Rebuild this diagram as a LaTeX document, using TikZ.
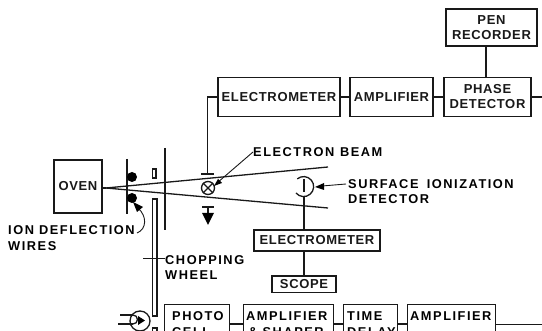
\documentclass[tikz,border=0pt]{standalone}
\usepackage{fontspec}
\setmainfont{Liberation Sans}[LetterSpace=5]
\newfontfamily\widefont{Liberation Sans}[LetterSpace=12]
\tikzset{
  ink/.style={line width=1.3pt,black!90},
  thinink/.style={line width=.9pt,black!90},
  blockbox/.style={ink,draw,rectangle,minimum width=#1,inner sep=0pt,align=center},
  lbl/.style={inner sep=0pt,anchor=west,align=left,font=\widefont\fontsize{12.8}{15.5}\selectfont\bfseries},
  boxtxt/.style={inner sep=0pt,align=left,anchor=north west,font=\widefont\fontsize{12.8}{16}\selectfont\bfseries},
  wire/.style={ink,draw},
}
\begin{document}
\begin{tikzpicture}[x=1pt,y=-1pt,font=\fontsize{13}{15}\selectfont\bfseries]
\useasboundingbox (0,0) rectangle (542,331);
\clip (0,0) rectangle (542,331);
% top row
\node[blockbox=91pt,minimum height=37pt] (pen) at (491.5,27.5) {PEN\\RECORDER};
\node[blockbox=87pt,minimum height=39pt] (phase) at (487.5,97) {PHASE\\DETECTOR};
\node[blockbox=83pt,minimum height=39pt] (amp) at (391.5,97) {AMPLIFIER};
\node[blockbox=122pt,minimum height=39pt] (em) at (279,97) {ELECTROMETER};
\coordinate (penfoot) at (486,46);
\coordinate (phasetop) at (486,77.5);
\coordinate (phaseout) at (542,97);
\coordinate (emtee) at (207.5,97);
\coordinate (emT) at (207.5,174);
\draw[wire] (penfoot) -- (phasetop);
\draw[wire] (phase.east) -- (phaseout);
\draw[wire] (phase.west) -- (amp.east);
\draw[wire] (amp.west) -- (em.east);
\draw[wire] (em.west) -- (emtee) -- (emT);
\draw[wire] (201,174) -- (214,174);
% oven and beam
\node[blockbox=48pt,minimum height=53pt] (oven) at (78,186.5) {OVEN};
\coordinate (apex) at (106,188);
\coordinate (up) at (328,167);
\coordinate (low) at (328,208);
\draw[wire] (apex) -- (up);
\draw[wire] (apex) -- (low);
\draw[wire] (oven.east |- apex) -- (apex);
% plates, wires
\draw[wire] (127,159) -- (127,214);
\draw[wire] (165,148) -- (165,230);
\fill (132,177) circle (5);
\fill (132,198) circle (5);
\draw[ink] (152.5,169) rectangle (156,178);
\draw[ink] (152.5,199) rectangle (157,316);
\draw[ink] (152.5,328) rectangle (157,335);
\coordinate (axisL) at (143,258);
\coordinate (axisR) at (165,258);
\draw[thinink] (axisL) -- (axisR);
% e-beam marker
\node[ink,draw,circle,minimum size=13pt,inner sep=0pt] (xmark) at (208,188) {};
\draw[wire] (xmark.north west) -- (xmark.south east);
\draw[wire] (xmark.north east) -- (xmark.south west);
% down arrow
\draw[wire] (202,207) -- (214,207);
\draw[wire] (208,207) -- (208,214);
\fill (202,213) -- (214,213) -- (208,225) -- cycle;
% labels
\node[lbl] (ebeam) at (253,152) {ELECTRON\hspace{.45em}BEAM};
\draw[thinink] (ebeam.west) -- (217,183);
\fill (214,186) -- (222,183) -- (218,179) -- cycle;
\node[lbl] (surf) at (348,191.5) {SURFACE\hspace{.65em}IONIZATION\\DETECTOR};
% detector
\draw[wire] (296,193) arc[start angle=140,end angle=-130,radius=10];
\draw[wire] (304,179) -- (304,192);
\draw[thinink] (346,184) -- (322,186);
\fill (315,187) -- (324,183) -- (324,190) -- cycle;
\node[blockbox=126pt,minimum height=21pt] (em2) at (317,240.5) {ELECTROMETER};
\node[blockbox=64pt,minimum height=16.5pt] (scope) at (304,284.2) {SCOPE};
\coordinate (detfoot) at (304,197);
\coordinate (em2top) at (304,230);
\coordinate (em2foot) at (304,251);
\draw[wire] (detfoot) -- (em2top);
\draw[wire] (em2foot) -- (scope.north);
% ion deflection
\node[lbl] (ion) at (8,238) {ION DEFLECTION\\WIRES};
\draw[thinink] (137,233) .. controls (147,229) and (147,216) .. (138,208);
\fill (133,202) -- (143,207) -- (137,212) -- cycle;
\node[lbl] (chop) at (165,267.5) {CHOPPING\\WHEEL};
% bottom row
\node[ink,draw,circle,minimum size=20pt,inner sep=0pt] (photo) at (140,321) {};
\draw[wire] (120,315) -- (133,315);
\draw[wire] (118,324) -- (133,324);
\draw[wire] (133,315) arc[start angle=-90,end angle=90,radius=4.5];
\fill (138,316) -- (145,320.5) -- (138,325) -- cycle;
\node[blockbox=65pt,minimum height=40pt,anchor=north west] (cell) at (164,304) {};
\node[boxtxt] (celltxt) at (172,311) {PHOTO\\CELL};
\node[blockbox=90pt,minimum height=40pt,anchor=north west] (shaper) at (243,304) {};
\node[boxtxt] (shtxt) at (246,311) {AMPLIFIER\\\,\& SHAPER};
\node[blockbox=54pt,minimum height=40pt,anchor=north west] (delay) at (343,304) {};
\node[boxtxt] (dtxt) at (347,311) {TIME\\DELAY};
\node[blockbox=88pt,minimum height=40pt,anchor=north west] (amp2) at (407,304) {};
\node[boxtxt] (a2txt) at (410,311) {AMPLIFIER};
\coordinate (cellout) at (229,324);
\coordinate (sh1) at (243,324);
\coordinate (sh2) at (333,324);
\coordinate (de1) at (343,324);
\coordinate (de2) at (397,324);
\coordinate (am1) at (407,324);
\coordinate (am2) at (495,324);
\coordinate (outr) at (542,324);
\draw[wire] (cellout) -- (sh1);
\draw[wire] (sh2) -- (de1);
\draw[wire] (de2) -- (am1);
\draw[thinink] (am2) -- (outr);
\end{tikzpicture}
\end{document}
